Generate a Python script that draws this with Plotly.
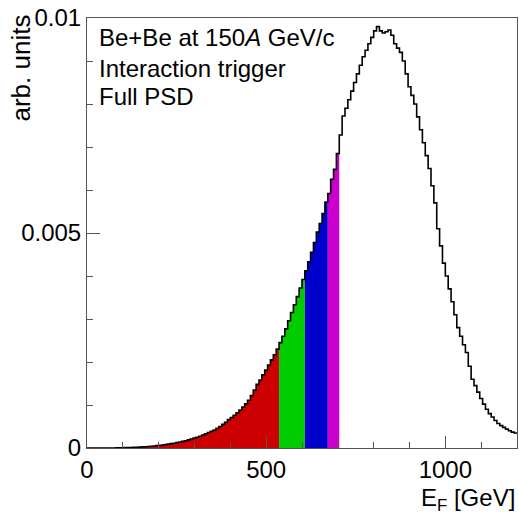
import numpy as np
import plotly.graph_objects as go

# ---- data ----
bin_width = 8.0   # GeV
x_min = 0.0
counts = [
    0, 0, 0, 0, 0, 0, 0, 0, 0.000001, 0.000001,
    0.000003, 0.000004, 0.000006, 0.000008, 0.00001, 0.000012, 0.000015, 0.000019, 0.000023, 0.000027,
    0.00003, 0.000036, 0.00004, 0.000048, 0.000055, 0.000062, 0.00007, 0.00008, 0.00009, 0.000102,
    0.000112, 0.000125, 0.00014, 0.000155, 0.00017, 0.00019, 0.00021, 0.00023, 0.00025, 0.000275,
    0.0003, 0.00033, 0.00036, 0.00039, 0.00042, 0.00046, 0.0005, 0.00055, 0.0006, 0.00066,
    0.00071, 0.00076, 0.00082, 0.00088, 0.00095, 0.00103, 0.00111, 0.00122, 0.00135, 0.00148,
    0.00158, 0.0017, 0.00181, 0.00193, 0.00205, 0.00217, 0.0023, 0.00245, 0.0026, 0.00277,
    0.00296, 0.00315, 0.00333, 0.00352, 0.00372, 0.00392, 0.00412, 0.00433, 0.00455, 0.00478,
    0.00502, 0.00522, 0.00545, 0.00572, 0.00592, 0.00625, 0.00648, 0.00685, 0.00728, 0.00772,
    0.0079, 0.0081, 0.0083, 0.0085, 0.0087, 0.0089, 0.0091, 0.00925, 0.0094, 0.00955,
    0.0097, 0.0098, 0.0097, 0.00965, 0.00968, 0.00972, 0.0096, 0.0094, 0.0093, 0.0092,
    0.009, 0.0087, 0.0084, 0.0082, 0.008, 0.0077, 0.0074, 0.0071, 0.0068, 0.0065,
    0.0061, 0.0057, 0.0051, 0.0047, 0.0043, 0.004, 0.0037, 0.0034, 0.0031, 0.0028,
    0.0026, 0.0024, 0.00222, 0.0019, 0.0016, 0.00145, 0.0013, 0.00115, 0.00102, 0.0009,
    0.0008, 0.00072, 0.00064, 0.00057, 0.00052, 0.00048, 0.00044, 0.0004, 0.00037, 0.00035,
]
cut_edges = [0, 536, 608, 672, 704]
cut_colors = ["#CC0000", "#00CC00", "#0000CC", "#CC00CC"]

x_ticks = [0, 500, 1000]
x_ticktext = ["0", "500", "1000"]
y_ticks = [0, 0.005, 0.01]
y_ticktext = ["0", "0.005", "0.01"]

text_lines = ["Be+Be at 150<i>A</i> GeV/c", "Interaction trigger", "Full PSD"]

# ---- figure ----
n = len(counts)
edges = x_min + bin_width * np.arange(n + 1)
vals = np.array(counts)

FONT = "Liberation Sans, Arial, sans-serif"
FS = 24
AX = "#555555"

fig = go.Figure()

# coloured slices
for k in range(len(cut_edges) - 1):
    a, b = cut_edges[k], cut_edges[k + 1]
    idx = [i for i in range(n) if edges[i] >= a - 1e-9 and edges[i + 1] <= b + 1e-9]
    xs = list(edges[idx[0]: idx[-1] + 2])
    ys = list(vals[idx[0]: idx[-1] + 1]) + [vals[idx[-1]]]
    fig.add_trace(go.Scatter(
        x=xs, y=ys, mode="lines", line=dict(width=0, shape="hv"),
        fill="tozeroy", fillcolor=cut_colors[k], hoverinfo="skip", showlegend=False))

# histogram outline
fig.add_trace(go.Scatter(
    x=list(edges), y=list(vals) + [vals[-1]], mode="lines",
    line=dict(color="black", width=1.6, shape="hv"), showlegend=False))

fig.update_layout(
    width=519, height=514,
    margin=dict(l=87, r=2, t=18, b=66),
    plot_bgcolor="white", paper_bgcolor="white",
    font=dict(family=FONT, size=FS, color="black"),
    xaxis=dict(range=[0, 1200], tickvals=x_ticks, ticktext=x_ticktext,
               ticks="inside", ticklen=12, tickcolor=AX, tickwidth=1,
               minor=dict(ticks="inside", ticklen=6, dtick=100, tick0=0, tickcolor=AX, showgrid=False),
               showgrid=False, zeroline=False, showline=True, linecolor=AX, linewidth=1,
               mirror=True, tickfont=dict(size=FS, family=FONT)),
    yaxis=dict(range=[0, 0.01], tickvals=y_ticks, ticktext=y_ticktext,
               ticks="inside", ticklen=13, tickcolor=AX, tickwidth=1,
               minor=dict(ticks="inside", ticklen=6, dtick=0.001, tick0=0, tickcolor=AX, showgrid=False),
               showgrid=False, zeroline=False, showline=True, linecolor=AX, linewidth=1,
               mirror=True, tickfont=dict(size=FS, family=FONT)),
)

PW, PH = 430.0, 430.0
line_y = [37, 68, 97]
ann = []
for j, t in enumerate(text_lines):
    ann.append(dict(text=t, xref="paper", yref="paper",
                    x=(97 - 87) / PW, y=(448 - line_y[j]) / PH,
                    xanchor="left", yanchor="middle", showarrow=False,
                    font=dict(size=FS, family=FONT, color="black")))
ann.append(dict(text="arb. units", xref="paper", yref="paper", textangle=-90,
                x=(21 - 87) / PW, y=1 + 5 / PH, xanchor="center", yanchor="top",
                showarrow=False, font=dict(size=26, family=FONT, color="black")))
ann.append(dict(text="E<sub>F</sub> [GeV]", xref="paper", yref="paper",
                x=1 + 0 / PW, y=(448 - 499) / PH, xanchor="right", yanchor="middle",
                showarrow=False, font=dict(size=FS, family=FONT, color="black")))
fig.update_layout(annotations=ann)

fig.write_html("out.html")
